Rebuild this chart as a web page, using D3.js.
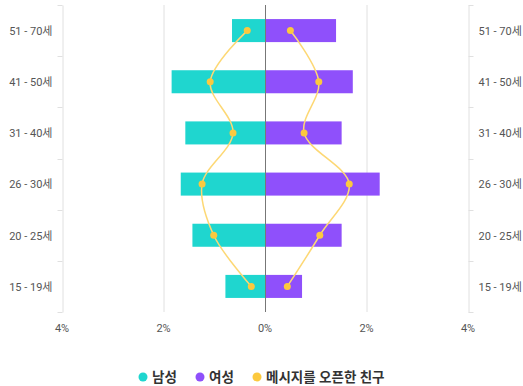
<!DOCTYPE html>
<html>
<head>
<meta charset="utf-8">
<script src="https://cdn.jsdelivr.net/npm/d3@7"></script>
<style>
  body { margin: 0; background: #fff; }
  text { font-family: Roboto, "Noto Sans CJK KR", sans-serif; }
</style>
</head>
<body>
<div id="chart"></div>
<script>
// data, top category first
var ages = ["51 - 70세", "41 - 50세", "31 - 40세", "26 - 30세", "20 - 25세", "15 - 19세"];
var male = [-0.65, -1.84, -1.57, -1.66, -1.43, -0.78];
var female = [1.40, 1.73, 1.51, 2.26, 1.51, 0.73];
var openedMale = [-0.35, -1.08, -0.63, -1.24, -1.01, -0.27];
var openedFemale = [0.50, 1.06, 0.77, 1.66, 1.08, 0.44];
var xTicks = [-4, -2, 0, 2, 4];
var legendNames = ["남성", "여성", "메시지를 오픈한 친구"];

var colors = { male: "#1fd6cf", female: "#8f50fb", line: "#fdd874", dot: "#fcc93e" };

var W = 523, H = 386;
var margin = { top: 5, right: 55, bottom: 74, left: 62 },
    width = W - margin.left - margin.right,
    height = H - margin.top - margin.bottom;

var x = d3.scaleLinear().domain([-4, 4]).range([0, width]);
var y = d3.scaleBand().domain(ages).range([0, height]).paddingInner(0.55).paddingOuter(0.275);
var yb = d3.scaleBand().domain(ages).range([0, height]);

var svg = d3.select("#chart").append("svg")
    .attr("width", W).attr("height", H);
var g = svg.append("g")
    .attr("transform", "translate(" + margin.left + "," + margin.top + ")");

// vertical grid lines
g.selectAll(".grid").data([-2, 2]).enter().append("line")
    .attr("x1", function(d) { return x(d) + 0.5; })
    .attr("x2", function(d) { return x(d) + 0.5; })
    .attr("y1", 0).attr("y2", height)
    .attr("stroke", "#e0e0e0");

// category axes on both sides
function drawAxis(side) {
  var ax = side === "left" ? d3.axisLeft(yb) : d3.axisRight(yb);
  var gx = g.append("g")
      .attr("transform", "translate(" + (side === "left" ? 0.5 : width + 0.5) + ",0)")
      .call(ax.tickSize(0).tickPadding(10));
  gx.select(".domain").attr("stroke", "#e0e0e0");
  gx.selectAll("text").attr("fill", "#555").attr("dy", "0.4em").style("font-size", "11px");
  // ticks on band boundaries
  var bounds = ages.map(function(d) { return yb(d); }).concat([height]);
  gx.selectAll(".btick").data(bounds).enter().append("line")
      .attr("x1", 0).attr("x2", side === "left" ? -5 : 5)
      .attr("y1", function(d) { return Math.round(d) + 0.5; })
      .attr("y2", function(d) { return Math.round(d) + 0.5; })
      .attr("stroke", "#e0e0e0");
}
drawAxis("left");
drawAxis("right");

// bars
g.selectAll(".male").data(ages).enter().append("rect")
    .attr("x", function(d, i) { return x(male[i]); })
    .attr("y", function(d) { return y(d); })
    .attr("width", function(d, i) { return x(0) - x(male[i]); })
    .attr("height", y.bandwidth())
    .attr("fill", colors.male);

g.selectAll(".female").data(ages).enter().append("rect")
    .attr("x", x(0))
    .attr("y", function(d) { return y(d); })
    .attr("width", function(d, i) { return x(female[i]) - x(0); })
    .attr("height", y.bandwidth())
    .attr("fill", colors.female);

// zero line
g.append("line")
    .attr("x1", x(0) + 0.5).attr("x2", x(0) + 0.5)
    .attr("y1", 0).attr("y2", height)
    .attr("stroke", "#777");

// x axis labels
g.selectAll(".xl").data(xTicks).enter().append("text")
    .attr("x", function(d) { return x(d); })
    .attr("y", height + 20)
    .attr("text-anchor", "middle")
    .attr("fill", "#555")
    .style("font-size", "11px")
    .text(function(d) { return Math.abs(d) + "%"; });

// smoothed lines for opened-message friends
var line = d3.line()
    .x(function(d) { return x(d[0]); })
    .y(function(d) { return d[1]; })
    .curve(d3.curveCatmullRom.alpha(0.5));

[openedMale, openedFemale].forEach(function(series) {
  var pts = series.map(function(v, i) { return [v, yb(ages[i]) + yb.bandwidth() / 2]; });
  g.append("path")
      .attr("d", line(pts))
      .attr("fill", "none")
      .attr("stroke", colors.line)
      .attr("stroke-width", 1.5);
  g.selectAll(null).data(pts).enter().append("circle")
      .attr("cx", function(d) { return x(d[0]); })
      .attr("cy", function(d) { return d[1]; })
      .attr("r", 3.5)
      .attr("fill", colors.dot);
});

// legend
var legendColors = [colors.male, colors.female, colors.dot];
var legendX = [143, 200, 257];
var lg = svg.append("g");
legendNames.forEach(function(name, i) {
  lg.append("circle")
      .attr("cx", legendX[i]).attr("cy", 377)
      .attr("r", 4.5).attr("fill", legendColors[i]);
  lg.append("text")
      .attr("x", legendX[i] + 9).attr("y", 377)
      .attr("dy", "0.35em")
      .attr("fill", "#333")
      .style("font-size", "13.5px")
      .style("font-weight", "bold")
      .text(name);
});
</script>
</body>
</html>
